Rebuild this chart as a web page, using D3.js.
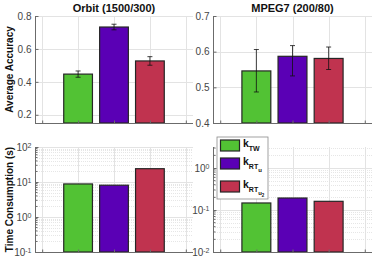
<!DOCTYPE html>
<html>
<head>
<meta charset="utf-8">
<script src="https://cdn.jsdelivr.net/npm/d3@7"></script>
<style>
body { margin: 0; background: #fff; }
svg { font-family: "Liberation Sans", Arial, sans-serif; }
</style>
</head>
<body>
<svg width="374" height="263"></svg>
<script>
// data
var methods = ["TW", "RTu", "RTu2"];
var barColors = ["#52c234", "#5a00b5", "#c0334f"];

var orbitAcc = [0.447, 0.733, 0.527];
var orbitErrLo = [0.019, 0.017, 0.026];
var orbitErrHi = [0.019, 0.017, 0.026];
var mpegAcc = [0.546, 0.587, 0.581];
var mpegErrLo = [0.059, 0.055, 0.031];
var mpegErrHi = [0.060, 0.030, 0.032];

var orbitTime = [8.8, 8.1, 24];
var mpegTime = [0.147, 0.193, 0.161];

var titles = ["Orbit (1500/300)", "MPEG7 (200/80)"];
var accTicksLeft = [0.2, 0.4, 0.6, 0.8];
var accTicksRight = [0.4, 0.5, 0.6, 0.7];

var svg = d3.select("svg");
var axisCol = "#6b6b6b";
var gridCol = "#e3e3e3";
var xs = [0, 1, 2, 3, 4];

// panel geometry
var colsX = [[35, 193], [213, 372]];
var topY = [16, 123];
var botY = [147, 252];

function xScale(c) {
    return d3.scaleLinear().domain([-0.2, 4.2]).range(colsX[c]);
}

function drawPanel(c, rowY, y, vals, opts) {
    var x = xScale(c);
    var g = svg.append("g");

    // minor grid (log only)
    if (opts.minor) {
        g.selectAll(".mg").data(opts.minor).enter().append("line")
            .attr("x1", x.range()[0]).attr("x2", x.range()[1])
            .attr("y1", function(d) { return Math.round(y(d)) + 0.5; })
            .attr("y2", function(d) { return Math.round(y(d)) + 0.5; })
            .attr("stroke", "#e6e6e6").attr("stroke-dasharray", "1,1");
    }
    // major grid
    g.selectAll(".hg").data(opts.ticks).enter().append("line")
        .attr("x1", x.range()[0]).attr("x2", x.range()[1])
        .attr("y1", function(d) { return Math.round(y(d)) + 0.5; })
        .attr("y2", function(d) { return Math.round(y(d)) + 0.5; })
        .attr("stroke", gridCol);
    g.selectAll(".vg").data(xs).enter().append("line")
        .attr("x1", function(d) { return Math.round(x(d)) + 0.5; })
        .attr("x2", function(d) { return Math.round(x(d)) + 0.5; })
        .attr("y1", rowY[0]).attr("y2", rowY[1])
        .attr("stroke", gridCol);

    // bars
    var bw = x(0.8) - x(0);
    g.selectAll(".bar").data(vals).enter().append("rect")
        .attr("x", function(d, i) { return x(i + 1) - bw / 2; })
        .attr("y", function(d) { return y(d); })
        .attr("width", bw)
        .attr("height", function(d) { return rowY[1] - y(d); })
        .attr("fill", function(d, i) { return barColors[i]; })
        .attr("stroke", "#262626").attr("stroke-width", 1.2);

    // error bars
    if (opts.errLo) {
        var eb = g.selectAll(".eb").data(vals).enter().append("g");
        eb.append("line")
            .attr("x1", function(d, i) { return x(i + 1); })
            .attr("x2", function(d, i) { return x(i + 1); })
            .attr("y1", function(d, i) { return y(d + opts.errHi[i]); })
            .attr("y2", function(d, i) { return y(d - opts.errLo[i]); })
            .attr("stroke", "#111").attr("stroke-width", 0.8);
        [1, -1].forEach(function(s) {
            eb.append("line")
                .attr("x1", function(d, i) { return x(i + 1) - 2.5; })
                .attr("x2", function(d, i) { return x(i + 1) + 2.5; })
                .attr("y1", function(d, i) { return y(s > 0 ? d + opts.errHi[i] : d - opts.errLo[i]); })
                .attr("y2", function(d, i) { return y(s > 0 ? d + opts.errHi[i] : d - opts.errLo[i]); })
                .attr("stroke", "#111").attr("stroke-width", 0.8);
        });
    }

    // axes
    var yAxis = g.append("g").attr("transform", "translate(" + (x.range()[0] + 0.5) + ",0)")
        .call(d3.axisLeft(y).tickValues(opts.ticks).tickSize(-3).tickPadding(4)
            .tickFormat(opts.log ? function() { return ""; } : d3.format(".1f")));
    if (opts.minor) {
        yAxis.selectAll(".mt").data(opts.minor).enter().append("line")
            .attr("x1", 0).attr("x2", 2)
            .attr("y1", function(d) { return y(d); }).attr("y2", function(d) { return y(d); })
            .attr("stroke", axisCol);
    }
    var xAxis = g.append("g").attr("transform", "translate(0," + (rowY[1] + 0.5) + ")")
        .call(d3.axisBottom(x).tickValues(xs).tickSize(-3).tickFormat(""));
    [yAxis, xAxis].forEach(function(a) {
        a.select(".domain").attr("stroke", axisCol).attr("stroke-width", 1);
        a.selectAll(".tick line").attr("stroke", axisCol);
        a.selectAll("text").attr("fill", "#454545").style("font-size", "10px")
            .style("font-family", "Liberation Sans, Arial, sans-serif");
    });
    yAxis.select(".domain").attr("d", "M0," + rowY[0] + "V" + rowY[1] + "H0");
    xAxis.select(".domain").attr("d", "M" + x.range()[0] + ",0H" + x.range()[1]);

    // log tick labels as 10^n
    if (opts.log) {
        yAxis.selectAll(".tick").each(function(d) {
            var t = d3.select(this).select("text").attr("x", -4);
            t.append("tspan").text("10");
            t.append("tspan").attr("dy", "-0.45em").style("font-size", "7px")
                .text(String(Math.round(Math.log10(d))));
        });
    }
    return x;
}

function minorTicks(lo, hi) {
    var out = [];
    for (var e = Math.floor(Math.log10(lo)); e < Math.ceil(Math.log10(hi)); e++) {
        for (var m = 2; m <= 9; m++) {
            var v = m * Math.pow(10, e);
            if (v > lo && v < hi) out.push(v);
        }
    }
    return out;
}

// top row: accuracy
var yAccL = d3.scaleLinear().domain([0.15, 0.8]).range([topY[1], topY[0]]);
var yAccR = d3.scaleLinear().domain([0.4, 0.7]).range([topY[1], topY[0]]);
drawPanel(0, topY, yAccL, orbitAcc, { ticks: accTicksLeft, errLo: orbitErrLo, errHi: orbitErrHi });
drawPanel(1, topY, yAccR, mpegAcc, { ticks: accTicksRight, errLo: mpegErrLo, errHi: mpegErrHi });

// bottom row: time (log)
var yTimeL = d3.scaleLog().domain([0.1, 100]).range([botY[1], botY[0]]);
var yTimeR = d3.scaleLog().domain([0.01, Math.pow(10, 0.5)]).range([botY[1], botY[0]]);
drawPanel(0, botY, yTimeL, orbitTime, { ticks: [0.1, 1, 10, 100], log: true, minor: minorTicks(0.1, 100) });
drawPanel(1, botY, yTimeR, mpegTime, { ticks: [0.01, 0.1, 1], log: true, minor: minorTicks(0.01, Math.pow(10, 0.5)) });

// titles
titles.forEach(function(t, c) {
    var x = xScale(c);
    svg.append("text").attr("x", x(2)).attr("y", 12)
        .attr("text-anchor", "middle").attr("font-weight", "bold")
        .attr("font-size", "11px").attr("fill", "#111").text(t);
});

// y labels
[["Average Accuracy", (topY[0] + topY[1]) / 2], ["Time Consumption (s)", (botY[0] + botY[1]) / 2]].forEach(function(l) {
    svg.append("text").attr("transform", "translate(13," + l[1] + ") rotate(-90)")
        .attr("text-anchor", "middle").attr("font-weight", "bold")
        .attr("font-size", "10px").attr("fill", "#111").text(l[0]);
});

// legend
var lg = svg.append("g").attr("transform", "translate(217,137)");
lg.append("rect").attr("width", 51).attr("height", 62)
    .attr("fill", "#fff").attr("stroke", "#8a8a8a").attr("stroke-width", 0.8);
var rowsY = [3, 21, 44];
methods.forEach(function(m, i) {
    lg.append("rect").attr("x", 3.5).attr("y", rowsY[i]).attr("width", 19).attr("height", 11)
        .attr("fill", barColors[i]).attr("stroke", "#262626").attr("stroke-width", 1.2);
    var t = lg.append("text").attr("x", 26).attr("y", rowsY[i] + 7)
        .attr("font-weight", "bold").attr("font-size", "10.5px").attr("fill", "#111");
    t.append("tspan").text("k");
    if (m === "TW") {
        t.append("tspan").attr("dy", 4).attr("font-size", "7px").text("TW");
    } else {
        t.append("tspan").attr("dy", 3.5).attr("font-size", "7px").text("RT");
        t.append("tspan").attr("dy", 3).attr("font-size", "6px").text("u");
        if (m === "RTu2") t.append("tspan").attr("dy", 2.5).attr("font-size", "4.5px").text("2");
    }
});
</script>
</body>
</html>
